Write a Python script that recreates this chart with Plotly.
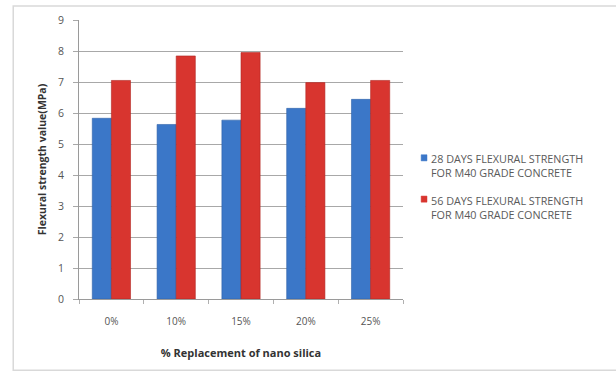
import plotly.graph_objects as go

categories = ["0%", "10%", "15%", "20%", "25%"]
days28 = [5.83, 5.63, 5.77, 6.15, 6.44]
days56 = [7.05, 7.84, 7.95, 6.98, 7.05]
series_names = [
    "28 DAYS FLEXURAL STRENGTH<br>FOR M40 GRADE CONCRETE",
    "56 DAYS FLEXURAL STRENGTH<br>FOR M40 GRADE CONCRETE",
]
series_colors = ["#3b77c8", "#d8352f"]
edge_colors = ["#2f62a8", "#b02622"]
y_ticks = list(range(0, 10))

fig = go.Figure()
for vals, name, col, edge in zip([days28, days56], series_names, series_colors, edge_colors):
    fig.add_trace(go.Bar(
        x=categories, y=vals, name=name, showlegend=False,
        marker=dict(color=col, line=dict(color=edge, width=0.6)),
    ))

# Compact legend: small square key followed closely by two-line label
legend_shapes = []
legend_notes = []
key_x = 1.065           # paper x of key square centre
key_y = [0.506, 0.358]  # paper y of first text line per entry
for name, col, ky in zip(series_names, series_colors, key_y):
    legend_shapes.append(dict(
        type="rect", xref="paper", yref="paper",
        x0=key_x - 0.009, x1=key_x + 0.009, y0=ky - 0.011, y1=ky + 0.011,
        fillcolor=col, line=dict(color=col, width=0.5),
    ))
    legend_notes.append(dict(
        xref="paper", yref="paper", x=key_x + 0.014, y=ky + 0.03,
        xanchor="left", yanchor="top", align="left", showarrow=False,
        text=name, font=dict(size=10.8, color="#5a5a5a"),
    ))

legend_shapes.append(dict(
    type="rect", xref="paper", yref="paper",
    x0=-0.203, x1=1.67, y0=-0.255, y1=1.05,
    line=dict(color="#d9d9d9", width=1.5), fillcolor="rgba(0,0,0,0)",
    layer="below",
))

fig.update_layout(
    width=616, height=375,
    margin=dict(l=79, r=213, t=20, b=76),
    paper_bgcolor="white", plot_bgcolor="white",
    barmode="group", bargap=0.41, bargroupgap=0,
    font=dict(family="Open Sans, DejaVu Sans, sans-serif", color="#555555", size=10),
    showlegend=False,
    xaxis=dict(
        showgrid=False, showline=True, linecolor="#9a9a9a", linewidth=1,
        ticks="outside", ticklen=4, tickcolor="#b0b0b0",
        tickson="boundaries", ticklabelstandoff=13,
        tickfont=dict(size=10, color="#555555"),
        title=dict(text="<b>% Replacement of nano silica</b>",
                   font=dict(size=11, color="#333333"), standoff=22),
    ),
    yaxis=dict(
        range=[0, 9], tickvals=y_ticks, showgrid=True, gridcolor="#a8a8a8",
        gridwidth=1, showline=True, linecolor="#9a9a9a", linewidth=1,
        ticks="outside", ticklen=5, tickcolor="#a8a8a8", ticklabelstandoff=7,
        tickfont=dict(size=10.5, color="#555555"), zeroline=False,
        title=dict(text="<b>Flexural strength value(MPa)</b>",
                   font=dict(size=10.5, color="#333333"), standoff=9),
    ),
    shapes=legend_shapes,
    annotations=legend_notes,
)

fig.write_html("out.html")
